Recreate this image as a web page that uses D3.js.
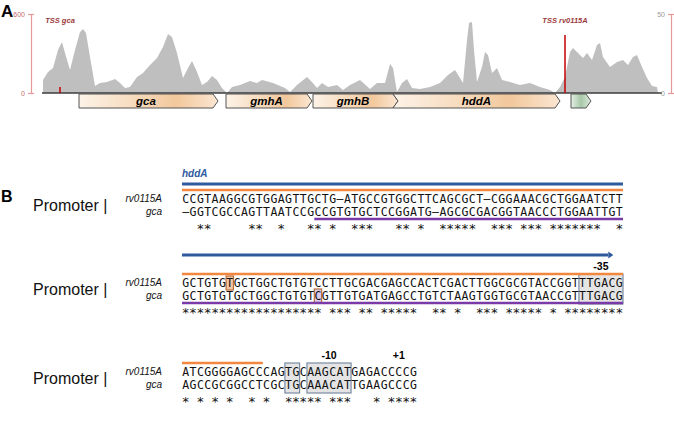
<!DOCTYPE html>
<html>
<head>
<meta charset="utf-8">
<script src="https://cdn.jsdelivr.net/npm/d3@7"></script>
<style>
  body { margin: 0; background: #fff; }
  svg { display: block; font-family: "Liberation Sans", Arial, sans-serif; }
  .seq { font-family: "DejaVu Sans Mono", "Liberation Mono", monospace; font-size: 11.5px; fill: #111; }
  .star { font-size: 13px; }
</style>
</head>
<body>
<svg id="fig" width="674" height="434"></svg>
<script>
// ---- panel A : read coverage (bp position, depth)
const covPos = [10,60,110,160,200,230,280,330,380,410,440,480,530,580,650,730,780,830,880,950,
  1010,1080,1150,1210,1260,1300,1350,1410,1460,1500,1550,1600,1650,1700,1750,1800,1850,1900,1980,2080,
  2150,2200,2310,2430,2480,2550,2650,2700,2750,2800,2860,2950,3010,3080,3180,3280,3350,3430,3480,3510,
  3550,3600,3650,3700,3780,3880,3980,4060,4130,4180,4210,4250,4270,4300,4320,4350,4400,4430,4460,4500,
  4550,4600,4680,4780,4880,4980,5080,5130,5180,5230,5280,5310,5360,5410,5450,5500,5550,5580,5610,5680,
  5750,5810,5860,5910,5950,6000,6050,6100,6150,6160];
const covVal = [99,160,190,327,388,304,175,327,463,486,456,274,53,76,84,106,76,38,46,122,
  152,213,266,349,448,425,304,114,190,243,160,61,84,129,99,38,0,46,61,91,
  76,99,76,38,8,61,122,84,38,76,46,61,23,61,99,30,76,76,220,190,
  8,76,106,38,30,46,76,137,175,114,76,403,532,539,327,84,198,311,289,152,
  190,99,84,61,76,46,23,0,46,122,311,342,304,266,304,251,365,380,274,198,
  236,251,213,274,289,198,114,53,46,0];

const geneNames = ["gca", "gmhA", "gmhB", "hddA", ""];
const geneStart = [370, 1840, 2710, 3510, 5290];
const geneEnd = [1760, 2700, 3560, 5180, 5490];
const geneNotched = [false, false, false, true, false];
const geneKind = ["orf", "orf", "orf", "orf", "srna"];

const tssNames = ["TSS gca", "TSS rv0115A"];
const tssPos = [180, 5230];
const tssDepth = [45, 440];

const leftTicks = [0, 600];
const rightTicks = [0, 50];

// ---- panel B : promoter alignment
const seqNames = ["rv0115A", "gca"];
const seqTop = [
  "CCGTAAGGCGTGGAGTTGCTG-ATGCCGTGGCTTCAGCGCT-CGGAAACGCTGGAATCTT",
  "GCTGTGTGCTGGCTGTGTCCTTGCGACGAGCCACTCGACTTGGCGCGTACCGGTTTGACG",
  "ATCGGGGAGCCCAGTGCAAGCATGAGACCCCG"
];
const seqBottom = [
  "-GGTCGCCAGTTAATCCGCCGTGTGCTCCGGATG-AGCGCGACGGTAACCCTGGAATTGT",
  "GCTGTGTGCTGGCTGTGTCGTTGTGATGAGCCTGTCTAAGTGGTGCGTAACCGTTTGACG",
  "AGCCGCGGCCTCGCTGCAAACATTGAAGCCCG"
];
const seqStars = [
  "  **     **  *   ** *  ***   ** *  *****  *** *** *******  *",
  "******************* *** ** *****  ** *  *** ***** * ********",
  "* * * *  * *  ***** ***   * ****"
];
// [block, first col, last col]  (0-based columns)
const hddaSpans = [[0, 0, 59], [1, 0, 57]];
const rvSpans = [[0, 0, 59], [1, 0, 59], [2, 0, 10]];
const gcaSpans = [[0, 18, 59], [1, 0, 59]];
// [block, row, col]
const snpBoxes = [[1, 0, 6], [1, 1, 18]];
// [block, first col, last col, label]
const motifs = [[1, 54, 59, "-35"], [2, 14, 15, ""], [2, 17, 22, "-10"]];
const startSites = [[2, 29, "+1"]];

// ---- layout
const svg = d3.select("#fig");
svg.append("rect").attr("width", 674).attr("height", 434).attr("fill", "#fff");
const defs = svg.append("defs");

function grad(id, stops) {
  const g = defs.append("linearGradient").attr("id", id);
  stops.forEach(s => g.append("stop").attr("offset", s[0]).attr("stop-color", s[1]));
}
grad("orfFill", [[0, "#fdf3e8"], [0.7, "#f2c89c"], [1, "#fbe6d2"]]);
grad("srnaFill", [[0, "#e4eee4"], [0.5, "#a8c8a8"], [1, "#dde9dd"]]);

// panel labels
svg.append("text").attr("x", 1).attr("y", 17).attr("font-size", 17).attr("font-weight", "bold").text("A");
svg.append("text").attr("x", 1).attr("y", 202).attr("font-size", 16).attr("font-weight", "bold").text("B");

const x = d3.scaleLinear().domain([0, 6200]).range([42, 662]);
const y = d3.scaleLinear().domain([0, 600]).range([93, 14]);
const yR = d3.scaleLinear().domain([0, 50]).range([93, 14]);

const area = d3.area()
  .x((d, i) => x(covPos[i]))
  .y0(y(0))
  .y1(d => y(d));

svg.append("path").datum(covVal).attr("d", area).attr("fill", "#bfbfbf");

svg.append("line")
  .attr("x1", x(0)).attr("x2", x(6200))
  .attr("y1", y(0)).attr("y2", y(0))
  .attr("stroke", "#3d3d3d").attr("stroke-width", 1.5);

function styleAxis(g) {
  g.select(".domain").attr("stroke", "#e59a9a").attr("stroke-width", 1.2);
  g.selectAll(".tick line").attr("x1", -3).attr("x2", 3).attr("stroke", "#e59a9a").attr("stroke-width", 1.2);
  g.selectAll(".tick text").attr("x", -6).attr("fill", "#c46a6a").attr("font-size", 7)
    .attr("font-family", "Liberation Sans, Arial, sans-serif");
}
svg.append("g").attr("transform", "translate(31,0)")
  .call(d3.axisLeft(y).tickValues(leftTicks).tickSizeOuter(0).tickSize(3))
  .call(styleAxis);
svg.append("g").attr("transform", "translate(671,0)")
  .call(d3.axisLeft(yR).tickValues(rightTicks).tickSizeOuter(0).tickSize(3))
  .call(g => { styleAxis(g); g.selectAll(".tick text").attr("fill", "#999"); });

// TSS marks
tssPos.forEach((p, i) => {
  svg.append("line")
    .attr("x1", x(p)).attr("x2", x(p))
    .attr("y1", y(0)).attr("y2", y(tssDepth[i]))
    .attr("stroke", "#c00000").attr("stroke-width", 1.5);
  svg.append("text")
    .attr("x", x(p)).attr("y", 23)
    .attr("text-anchor", "middle")
    .attr("font-size", 7.5).attr("font-style", "italic").attr("font-weight", 600)
    .attr("fill", "#9b3b3b")
    .text(tssNames[i]);
});

// gene arrows
const gTop = 94, gBot = 108, tip = 5;
geneNames.forEach((name, i) => {
  const x0 = x(geneStart[i]), x1 = x(geneEnd[i]);
  const mid = (gTop + gBot) / 2;
  const pts = [[x0, gTop], [x1 - tip, gTop], [x1, mid], [x1 - tip, gBot], [x0, gBot]];
  if (geneNotched[i]) pts.push([x0 + tip, mid]);
  svg.append("polygon")
    .attr("points", pts.map(p => p.join(",")).join(" "))
    .attr("fill", geneKind[i] == "orf" ? "url(#orfFill)" : "url(#srnaFill)")
    .attr("stroke", "#555").attr("stroke-width", 1);
  if (name) {
    svg.append("text")
      .attr("x", (x0 + x1 - tip) / 2 + (geneNotched[i] ? tip / 2 : 0)).attr("y", 105)
      .attr("text-anchor", "middle")
      .attr("font-size", 11.5).attr("font-weight", "bold").attr("font-style", "italic")
      .text(name);
  }
});

// ---- panel B
const col = d3.scaleBand().domain(d3.range(60)).range([182, 623]);
const bw = col.bandwidth();
const rowY = [203, 287, 376];
const hddaY = [184, 255];

function hline(y0, c0, c1, color, w) {
  svg.append("line")
    .attr("x1", col(c0)).attr("x2", col(c1) + bw)
    .attr("y1", y0).attr("y2", y0)
    .attr("stroke", color).attr("stroke-width", w);
}

// motif boxes (under text)
motifs.forEach(m => {
  const r = rowY[m[0]];
  svg.append("rect")
    .attr("x", col(m[1])).attr("y", r - 13)
    .attr("width", (m[2] - m[1] + 1) * bw).attr("height", 30)
    .attr("fill", "#e4e4e4").attr("stroke", "#7b8ba3").attr("stroke-width", 1.2);
  if (m[3]) {
    svg.append("text")
      .attr("x", col(m[1]) + (m[2] - m[1] + 1) * bw / 2).attr("y", r - 17)
      .attr("text-anchor", "middle").attr("font-size", 10.5).attr("font-weight", "bold")
      .text(m[3]);
  }
});
startSites.forEach(s => {
  svg.append("text")
    .attr("x", col(s[1]) + bw / 2).attr("y", rowY[s[0]] - 17)
    .attr("text-anchor", "middle").attr("font-size", 10.5).attr("font-weight", "bold")
    .text(s[2]);
});
snpBoxes.forEach(b => {
  const r = rowY[b[0]] + b[1] * 13;
  svg.append("rect")
    .attr("x", col(b[2])).attr("y", r - 11)
    .attr("width", bw).attr("height", 14)
    .attr("fill", b[1] == 0 ? "#f6c6a4" : "#d9c9e8")
    .attr("stroke", "#b9703f").attr("stroke-width", 1.2);
});

// promoter / gene bars
hddaSpans.forEach((s, i) => {
  hline(hddaY[i], s[1], s[2], "#2f5a9e", 3);
  if (i == 1) {
    const xe = col(s[2]) + bw;
    svg.append("path")
      .attr("d", `M${xe},${hddaY[i] - 3.5}L${xe + 5},${hddaY[i]}L${xe},${hddaY[i] + 3.5}Z`)
      .attr("fill", "#2f5a9e");
  }
});
svg.append("text").attr("x", 182).attr("y", hddaY[0] - 7)
  .attr("font-size", 10).attr("font-weight", "bold").attr("font-style", "italic")
  .attr("fill", "#2f5a9e").text("hddA");
rvSpans.forEach(s => hline(rowY[s[0]] - 13, s[1], s[2], "#f4873f", 2.5));
gcaSpans.forEach(s => hline(rowY[s[0]] + 16, s[1], s[2], "#7a3aa8", 2.5));

// sequences
[seqTop, seqBottom, seqStars].forEach((rows, k) => {
  rows.forEach((str, b) => {
    const yy = rowY[b] + (k == 2 ? 30 : k * 13);
    svg.append("g").selectAll("text")
      .data(str.split(""))
      .join("text")
      .attr("class", k == 2 ? "seq star" : "seq")
      .attr("x", (c, i) => col(i) + bw / 2)
      .attr("y", yy)
      .attr("text-anchor", "middle")
      .text(c => c == "-" ? "\u2013" : c);
  });
});

// row labels
rowY.forEach(r => {
  svg.append("text").attr("x", 33).attr("y", r + 8)
    .attr("font-size", 16).attr("fill", "#111").text("Promoter |");
  seqNames.forEach((n, k) => {
    svg.append("text").attr("x", 162).attr("y", r + k * 13 - 1)
      .attr("text-anchor", "end").attr("font-size", 10).attr("font-style", "italic")
      .attr("fill", "#111").text(n);
  });
});
</script>
</body>
</html>
